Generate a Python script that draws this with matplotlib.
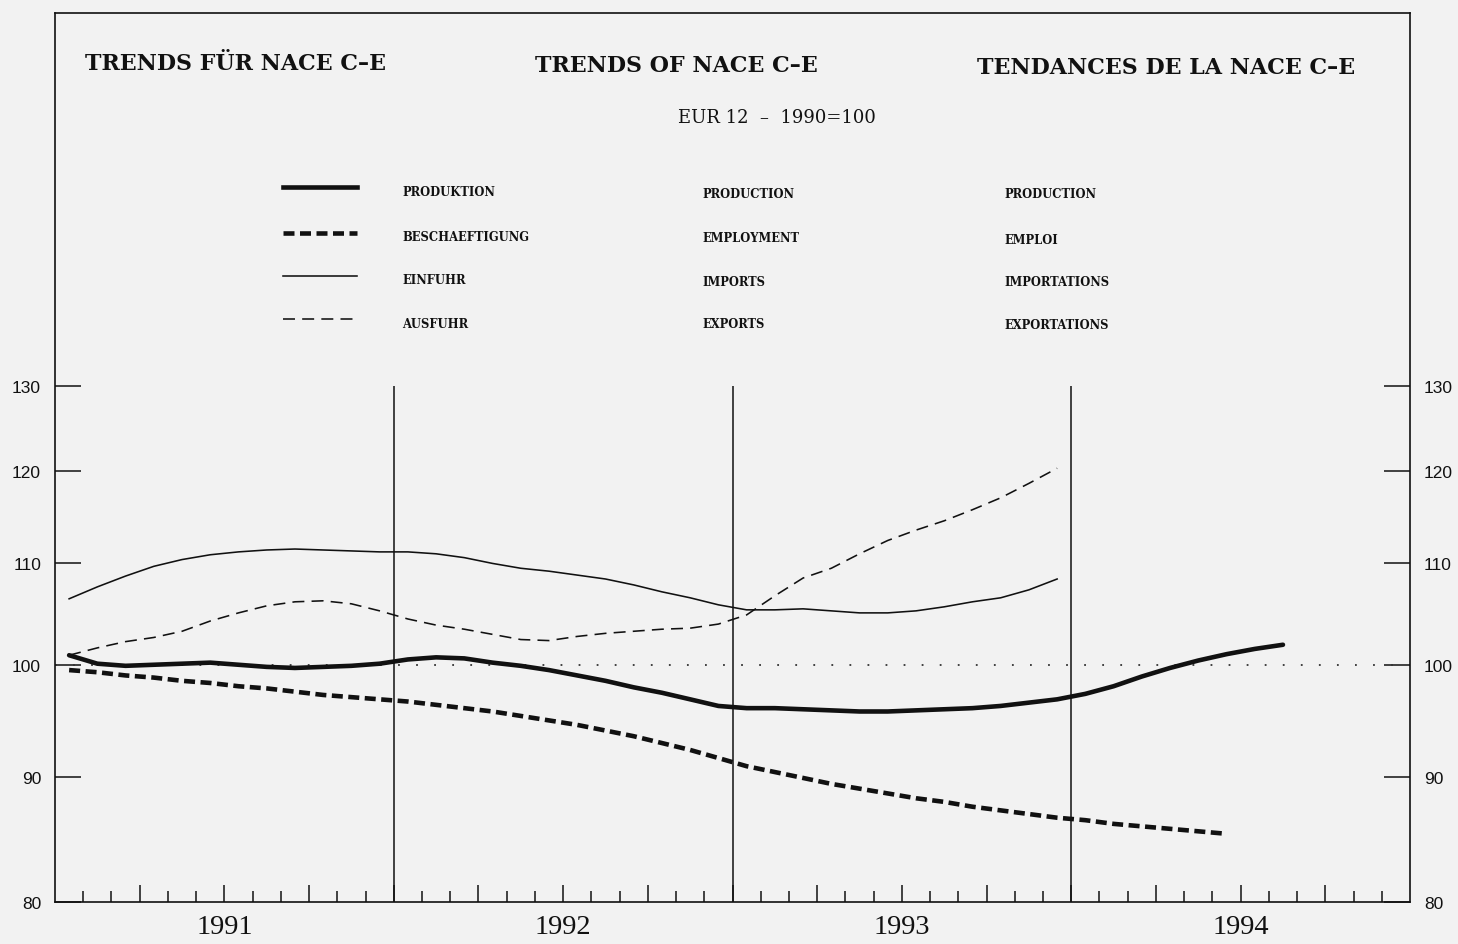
import matplotlib
matplotlib.use("Agg")
import numpy as np
import pandas as pd
import matplotlib.pyplot as plt
import matplotlib.transforms as mtransforms
from matplotlib.lines import Line2D
from matplotlib.ticker import FixedLocator, NullLocator, FixedFormatter

# ---- data: EUR 12, index 1990 = 100, monthly --------------------------------
months = pd.period_range("1991-01", "1994-08", freq="M")

production = [100.9, 100.1, 99.9, 100.0, 100.1, 100.2, 100.0, 99.8, 99.7, 99.8,
              99.9, 100.1, 100.5, 100.7, 100.6, 100.2, 99.9, 99.5, 99.0, 98.5,
              97.9, 97.4, 96.8, 96.2, 96.0, 96.0, 95.9, 95.8, 95.7, 95.7,
              95.8, 95.9, 96.0, 96.2, 96.5, 96.8, 97.3, 98.0, 98.9, 99.7,
              100.4, 101.0, 101.5, 101.9]

employment = [99.5, 99.3, 99.0, 98.8, 98.5, 98.3, 98.0, 97.8, 97.5, 97.2,
              97.0, 96.8, 96.6, 96.3, 96.0, 95.7, 95.3, 94.9, 94.5, 94.0,
              93.5, 92.9, 92.3, 91.6, 90.9, 90.4, 89.9, 89.4, 89.0, 88.6,
              88.2, 87.9, 87.5, 87.2, 86.9, 86.6, 86.4, 86.1, 85.9, 85.7,
              85.5, 85.3]

imports = [106.4, 107.6, 108.7, 109.7, 110.4, 110.9, 111.2, 111.4, 111.5, 111.4,
           111.3, 111.2, 111.2, 111.0, 110.6, 110.0, 109.5, 109.2, 108.8, 108.4,
           107.8, 107.1, 106.5, 105.8, 105.3, 105.3, 105.4, 105.2, 105.0, 105.0,
           105.2, 105.6, 106.1, 106.5, 107.3, 108.4]

exports = [100.9, 101.6, 102.2, 102.6, 103.2, 104.2, 105.0, 105.7, 106.1, 106.2,
           105.9, 105.2, 104.4, 103.8, 103.4, 102.9, 102.4, 102.3, 102.7, 103.0,
           103.2, 103.4, 103.5, 103.9, 104.8, 106.7, 108.5, 109.5, 111.0, 112.4,
           113.5, 114.5, 115.7, 117.0, 118.6, 120.3]

year_labels = ["1991", "1992", "1993", "1994"]
y_ticks = [80, 90, 100, 110, 120, 130]
y_tick_labels = ["80", "90", "100", "110", "120", "130"]

title_de = "TRENDS FÜR NACE C\u2013E"
title_en = "TRENDS OF NACE C\u2013E"
title_fr = "TENDANCES DE LA NACE C\u2013E"
subtitle = "EUR 12  \u2013  1990=100"

labels_de = ["PRODUKTION", "BESCHAEFTIGUNG", "EINFUHR", "AUSFUHR"]
labels_en = ["PRODUCTION", "EMPLOYMENT", "IMPORTS", "EXPORTS"]
labels_fr = ["PRODUCTION", "EMPLOI", "IMPORTATIONS", "EXPORTATIONS"]

# month midpoints as fractional years
x_month = np.array([p.year + (p.month - 0.5) / 12 for p in months])

# ---- figure ------------------------------------------------------------------
W, H = 1458, 945
BG = "#f2f2f2"
INK = "#111111"
fig = plt.figure(figsize=(W / 100, H / 100), dpi=100, facecolor=BG)


def fx(px):
    return px / W


def fy(py):
    return 1 - py / H


ax = fig.add_axes([fx(55), fy(903), fx(1410) - fx(55), fy(14) - fy(903)])
ax.set_facecolor(BG)
ax.set_yscale("log")
ax.set_xlim(1991, 1995)
ax.set_ylim(80, 184.6)

for s in ax.spines.values():
    s.set_linewidth(1.2)
    s.set_color(INK)

# y axis: ticks on both sides, pointing inward
ax.yaxis.set_major_locator(FixedLocator(y_ticks))
ax.yaxis.set_major_formatter(FixedFormatter(y_tick_labels))
ax.yaxis.set_minor_locator(NullLocator())
ax.tick_params(axis="y", which="major", direction="in", length=19, width=1.1,
               left=True, right=True, labelleft=True, labelright=True,
               pad=10, labelsize=12.5, colors=INK)
for lab in ax.get_yticklabels():
    lab.set_fontfamily("Liberation Sans")

# x axis: month ticks, longer quarter ticks, year names centred
quarters = [1991 + q / 4 for q in range(1, 16)]
month_ticks = [1991 + m / 12 for m in range(1, 48)]
ax.xaxis.set_major_locator(FixedLocator(quarters))
ax.xaxis.set_minor_locator(FixedLocator(month_ticks))
ax.xaxis.set_major_formatter(FixedFormatter([""] * len(quarters)))
ax.tick_params(axis="x", which="major", direction="in", length=12, width=1.1,
               top=False, colors=INK)
ax.tick_params(axis="x", which="minor", direction="in", length=8, width=1.1,
               top=False, colors=INK)

xblend = mtransforms.blended_transform_factory(ax.transData, ax.transAxes)
for i, yl in enumerate(year_labels):
    ax.text(1991 + i + 0.5, -0.028, yl, transform=xblend, ha="center",
            va="center", fontsize=20.5, family="Liberation Serif", color=INK)

# year separators and the base line
ax.vlines([1992, 1993, 1994], 80, 130, color=INK, lw=1.1)
ax.axhline(100, color="#333333", lw=1.3, ls=(0, (1, 9)))

# ---- series ------------------------------------------------------------------
ax.plot(x_month[:len(production)], production, color=INK, lw=3.3,
        solid_capstyle="round")
ax.plot(x_month[:len(employment)], employment, color=INK, lw=3.3,
        ls=(0, (2.4, 1.2)))
ax.plot(x_month[:len(imports)], imports, color=INK, lw=1.15)
ax.plot(x_month[:len(exports)], exports, color=INK, lw=1.15,
        ls=(0, (7.5, 4.5)))

# ---- titles ------------------------------------------------------------------
title_kw = dict(fontsize=15.9, fontweight="bold", family="DejaVu Serif",
                color=INK, va="center", ha="left")
fig.text(fx(85), fy(64), title_de, **title_kw)
fig.text(fx(535), fy(66), title_en, **title_kw)
fig.text(fx(977), fy(68), title_fr, **title_kw)
fig.text(fx(678), fy(118), subtitle, fontsize=13, family="DejaVu Serif",
         color=INK, va="center", ha="left")

# ---- key ---------------------------------------------------------------------
key_styles = [dict(lw=3.3, ls="-"),
              dict(lw=3.3, ls=(0, (2.4, 1.2))),
              dict(lw=1.15, ls="-"),
              dict(lw=1.15, ls=(0, (7.5, 4.5)))]
key_line_y = [188, 234, 277, 320]
key_text_y = [193, 238, 281, 324]
for i in range(4):
    fig.add_artist(Line2D([fx(283), fx(357)], [fy(key_line_y[i])] * 2,
                          color=INK, **key_styles[i]))
    lab_kw = dict(fontsize=8.3, fontweight="bold", family="DejaVu Serif",
                  color=INK, va="center", ha="left")
    fig.text(fx(402), fy(key_text_y[i]), labels_de[i], **lab_kw)
    fig.text(fx(702), fy(key_text_y[i] + 1), labels_en[i], **lab_kw)
    fig.text(fx(1004), fy(key_text_y[i] + 2), labels_fr[i], **lab_kw)

fig.savefig("out.png", dpi=100, facecolor=BG)
